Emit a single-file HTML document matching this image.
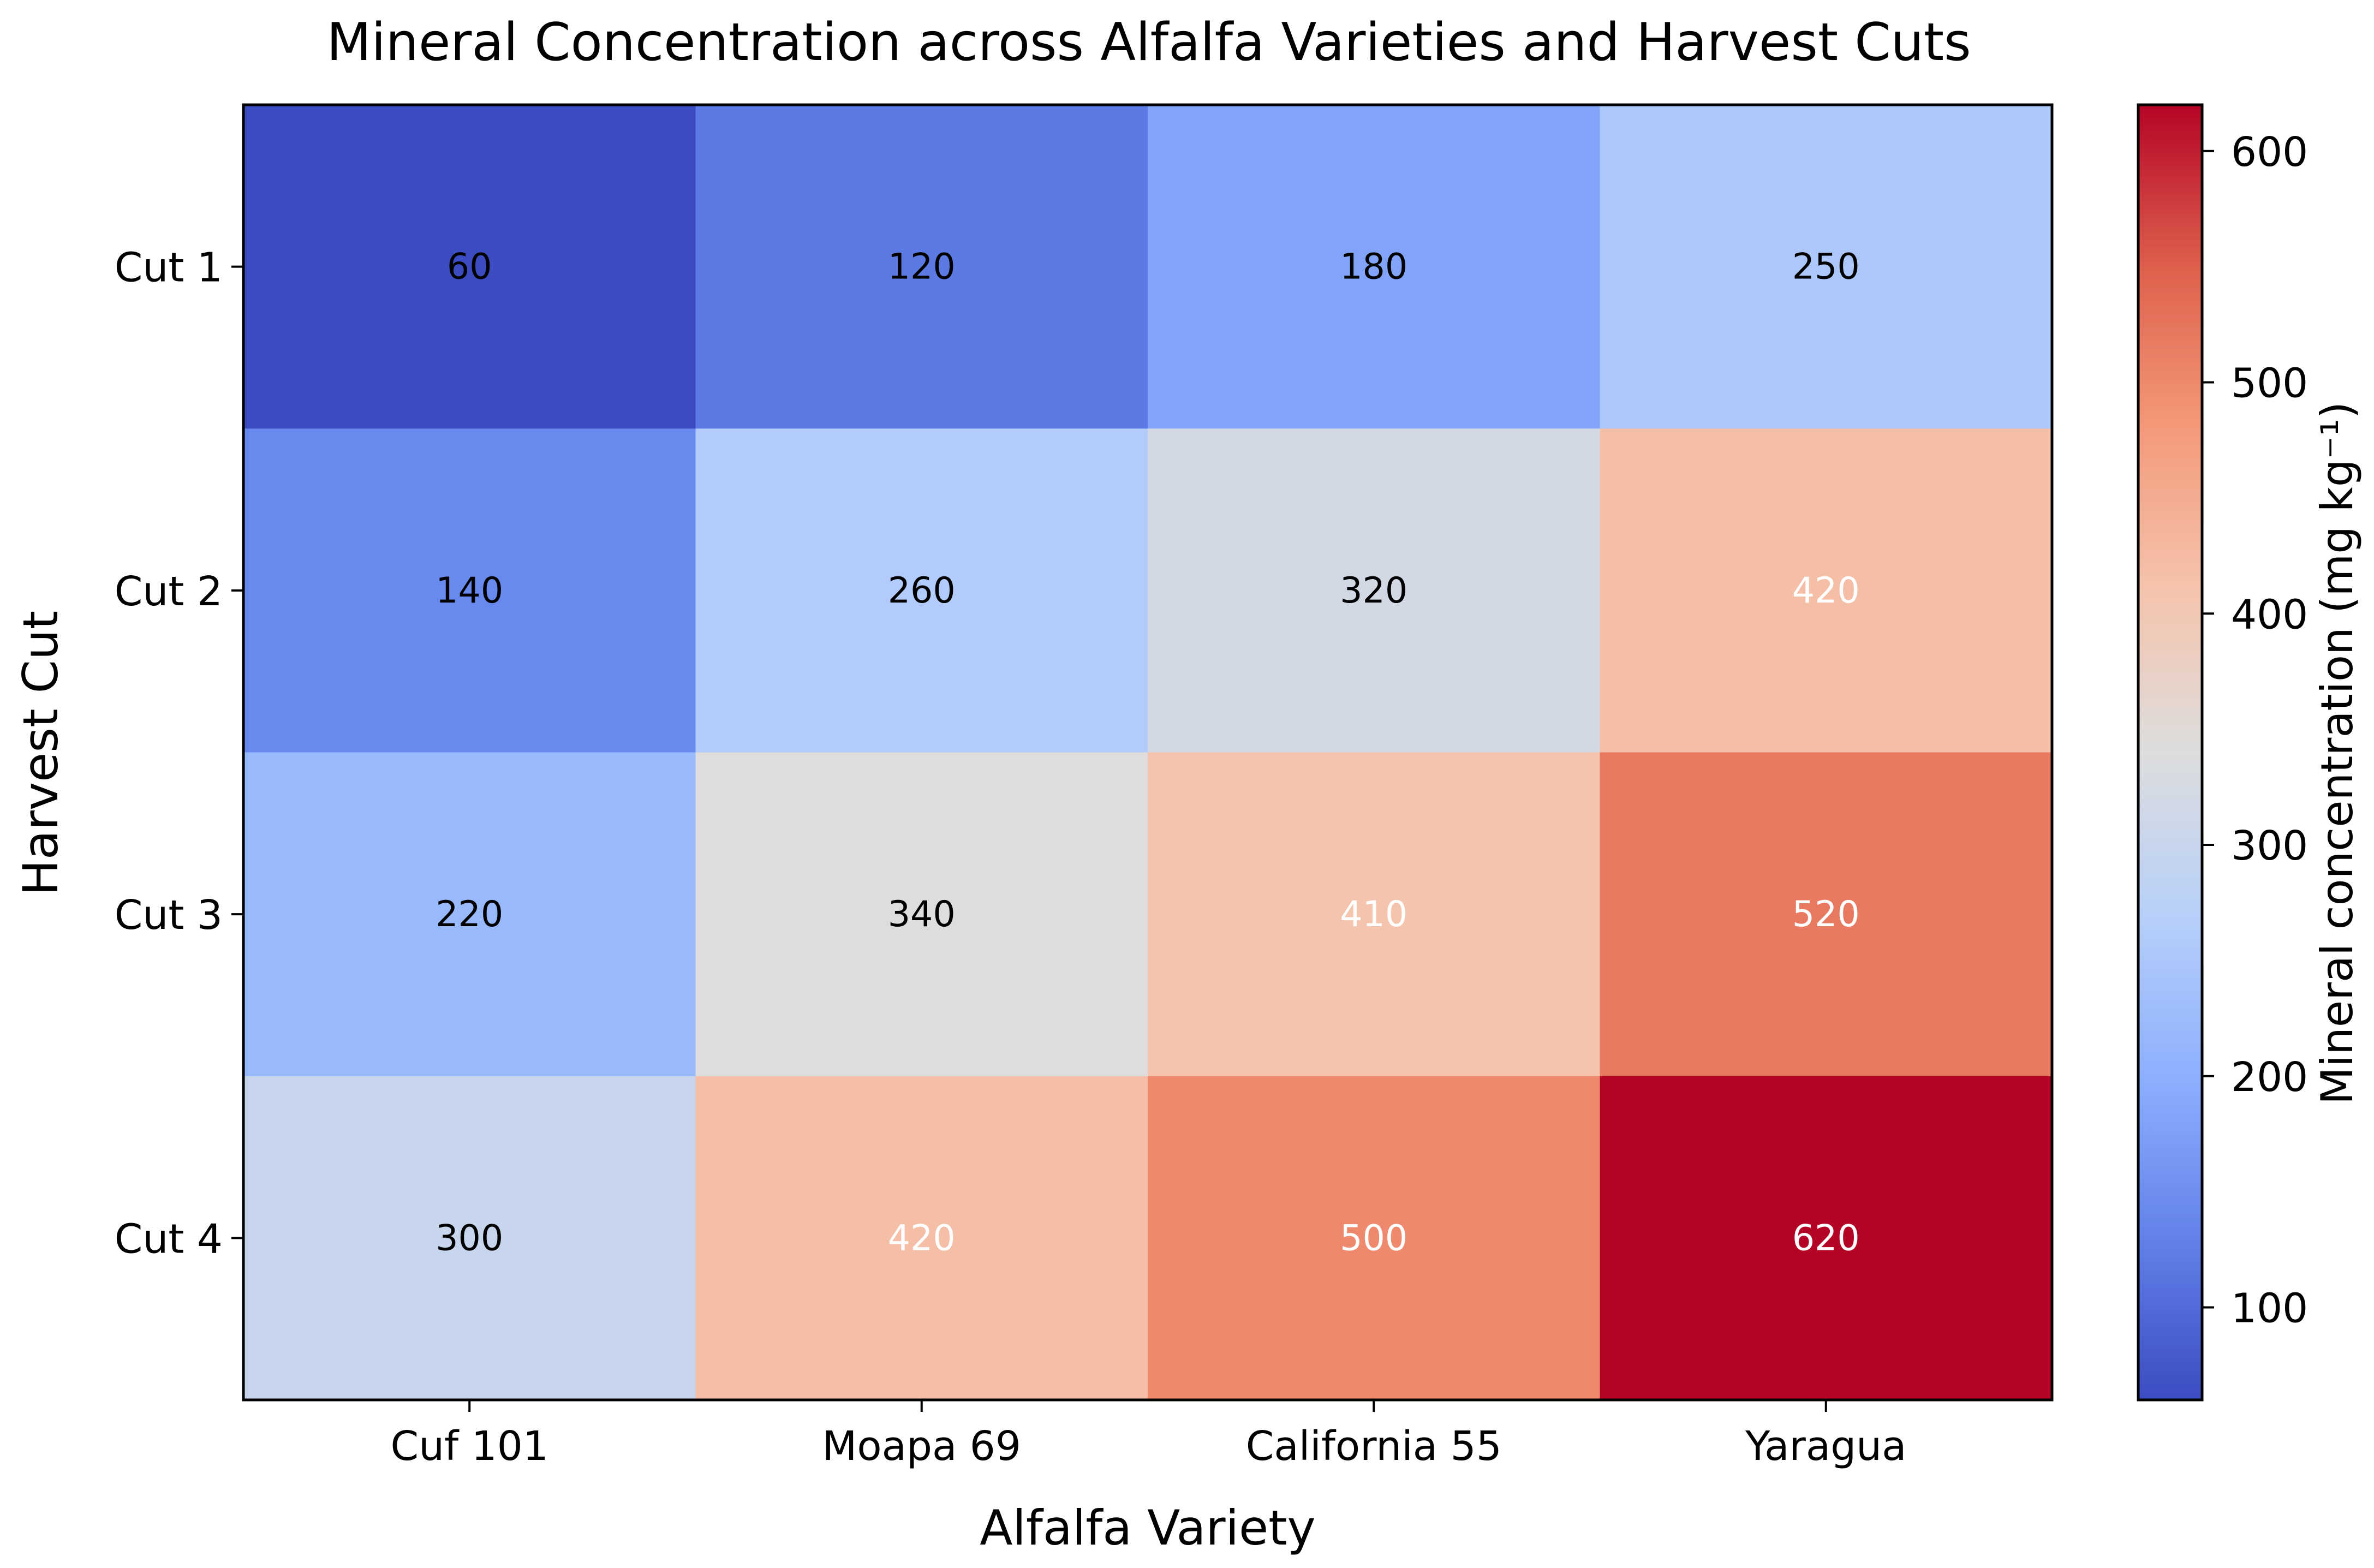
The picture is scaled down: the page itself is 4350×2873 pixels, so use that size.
<!DOCTYPE html>
<html><head><meta charset="utf-8"><style>
html,body{margin:0;padding:0;background:#fff}
svg{display:block;font-family:"DejaVu Sans","Liberation Sans",sans-serif}
</style></head><body>
<svg id="chart" width="4350" height="2873" viewBox="0 0 4350 2873" xmlns="http://www.w3.org/2000/svg">
<defs>
<linearGradient id="cbgrad" x1="0" y1="1" x2="0" y2="0">
<stop offset="0" stop-color="rgb(59,76,192)"/><stop offset="0.125" stop-color="rgb(98,130,234)"/>
<stop offset="0.25" stop-color="rgb(141,176,254)"/><stop offset="0.375" stop-color="rgb(184,208,249)"/>
<stop offset="0.5" stop-color="rgb(221,221,221)"/><stop offset="0.625" stop-color="rgb(245,196,173)"/>
<stop offset="0.75" stop-color="rgb(244,154,123)"/><stop offset="0.875" stop-color="rgb(222,96,77)"/>
<stop offset="1" stop-color="rgb(180,4,38)"/>
</linearGradient>
</defs>
<text x="2105" y="110" font-size="95" text-anchor="middle">Mineral Concentration across Alfalfa Varieties and Harvest Cuts</text>
<g id="cells"></g>
<rect x="446" y="192" width="3314" height="2373" fill="none" stroke="#000" stroke-width="5"/>
<g id="axes"></g>
<text x="2103" y="2830" font-size="88" text-anchor="middle">Alfalfa Variety</text>
<text transform="translate(105,1380) rotate(-90)" font-size="88" text-anchor="middle">Harvest Cut</text>
<rect x="3918" y="192" width="117" height="2373" fill="url(#cbgrad)" stroke="#000" stroke-width="5"/>
<g id="cbticks"></g>
<text transform="translate(4310,1380) rotate(-90)" font-size="80" text-anchor="middle">Mineral concentration (mg kg⁻¹)</text>
</svg>
<script>
const varieties = ["Cuf 101", "Moapa 69", "California 55", "Yaragua"];
const cuts = ["Cut 1", "Cut 2", "Cut 3", "Cut 4"];
const cut1 = [60, 120, 180, 250];
const cut2 = [140, 260, 320, 420];
const cut3 = [220, 340, 410, 520];
const cut4 = [300, 420, 500, 620];
const cbTicks = [100, 200, 300, 400, 500, 600];
const vmin = 60, vmax = 620;

const rows = [cut1, cut2, cut3, cut4];
const L = 446, R = 3760, T = 192, B = 2565;
const cw = (R - L) / varieties.length, ch = (B - T) / cuts.length;
const xc = i => L + cw * (i + 0.5);
const yc = j => T + ch * (j + 0.5);
const cbY = v => B - (v - vmin) / (vmax - vmin) * (B - T);
const stops = [[59,76,192],[98,130,234],[141,176,254],[184,208,249],[221,221,221],[245,196,173],[244,154,123],[222,96,77],[180,4,38]];
function cmap(v){
  let t = Math.max(0, Math.min(1, (v - vmin) / (vmax - vmin))) * 8;
  let i = Math.min(7, Math.floor(t)), f = t - i;
  const c = stops[i].map((a, k) => Math.round(a + (stops[i+1][k] - a) * f));
  return `rgb(${c[0]},${c[1]},${c[2]})`;
}
const NS = "http://www.w3.org/2000/svg";
function mk(tag, attrs, parent){
  const e = document.createElementNS(NS, tag);
  for (const k in attrs) e.setAttribute(k, attrs[k]);
  parent.appendChild(e); return e;
}
const cells = document.getElementById('cells');
rows.forEach((row, j) => row.forEach((v, i) => {
  const r = mk('rect', {x: L + cw * i, y: T + ch * j, width: cw + 1, height: ch + 1, fill: cmap(v)}, cells);
  
  
  const t = mk('text', {x: xc(i), y: yc(j) + 22, 'font-size': 65, 'text-anchor': 'middle', fill: (v - vmin) / (vmax - vmin) > 0.6 ? '#fff' : '#000'}, cells);
  t.textContent = v;
  
  
}));
const axes = document.getElementById('axes');
varieties.forEach((n, i) => {
  const l = mk('line', {x1: xc(i), x2: xc(i), y1: B, y2: B + 22, stroke: '#000', 'stroke-width': 4}, axes);
  
  
  const t = mk('text', {x: xc(i), y: B + 110, 'font-size': 74, 'text-anchor': 'middle'}, axes);
  t.textContent = n;
  
  
});
cuts.forEach((n, j) => {
  const l = mk('line', {x1: L - 22, x2: L, y1: yc(j), y2: yc(j), stroke: '#000', 'stroke-width': 4}, axes);
  
  
  const t = mk('text', {x: L - 38, y: yc(j) + 27, 'font-size': 74, 'text-anchor': 'end'}, axes);
  t.textContent = n;
  
  
});
const cbt = document.getElementById('cbticks');
cbTicks.forEach(v => {
  const l = mk('line', {x1: 4035, x2: 4057, y1: cbY(v), y2: cbY(v), stroke: '#000', 'stroke-width': 4}, cbt);
  
  
  const t = mk('text', {x: 4088, y: cbY(v) + 27, 'font-size': 74}, cbt);
  t.textContent = v;
  
  
});
</script>
</body></html>
